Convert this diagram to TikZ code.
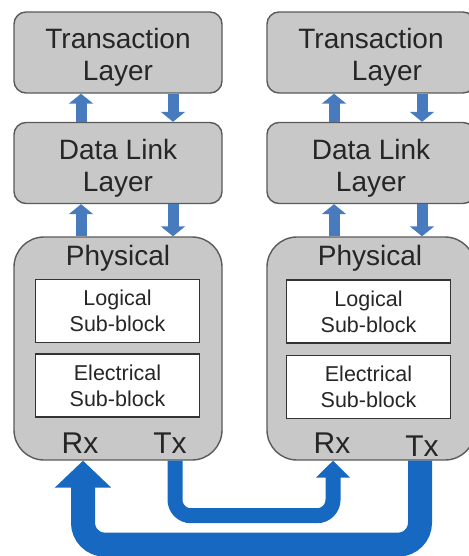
\documentclass[tikz,border=0pt]{standalone}
\usepackage{fontspec}
\setmainfont{Liberation Sans}
\usetikzlibrary{arrows.meta}
\definecolor{boxgray}{RGB}{200,200,200}
\definecolor{boxline}{RGB}{90,90,90}
\definecolor{txtgray}{RGB}{38,38,38}
\definecolor{stackblue}{RGB}{72,122,190}
\definecolor{linkblue}{RGB}{22,104,192}
\begin{document}
\begin{tikzpicture}[x=1pt,y=-1pt,
	layer/.style={draw=boxline,line width=1.4pt,fill=boxgray,rounded corners=12pt,minimum width=208pt,minimum height=81pt},
	laytext/.style={align=center,text=txtgray,font=\fontsize{28}{32}\selectfont,yshift=-5pt},
	phybox/.style={draw=boxline,line width=1.4pt,fill=boxgray,rounded corners=30pt,minimum width=208pt,minimum height=223pt},
	subblock/.style={draw=black!80,line width=1.4pt,fill=white,minimum width=164pt,minimum height=63pt,align=center,text=txtgray,font=\fontsize{21.5}{26}\selectfont},
	lbl/.style={text=txtgray,font=\fontsize{28}{32}\selectfont},
	port/.style={text=txtgray,font=\fontsize{30}{34}\selectfont},
	stackarrow/.style={draw=stackblue,line width=11pt,-{Triangle[length=10pt,width=24pt]}},
	linkarrow/.style={draw=linkblue}]
		\useasboundingbox (0,0) rectangle (468,556);
		\node[layer,label={[laytext]center:Transaction\\Layer}] (tlA) at (118,52.5) {};
		\node[layer,label={[laytext]center:Data Link\\Layer}] (dlA) at (118,163) {};
		\node[phybox] (phA) at (118,348.5) {};
		\node[lbl] (phtA) at (118,258) {Physical};
		\node[subblock] (logA) at (117.5,311) {Logical\\Sub-block};
		\node[subblock] (eleA) at (117.5,385.5) {Electrical\\Sub-block};
		\node[port] (rxA) at (80,443) {Rx};
		\node[port] (txA) at (170,443) {Tx};
		\node[layer,label={[laytext]center:Transaction\\\hspace*{32pt}Layer}] (tlB) at (371,52.5) {};
		\node[layer,label={[laytext]center:Data Link\\Layer}] (dlB) at (371,163) {};
		\node[phybox] (phB) at (371,348.5) {};
		\node[lbl] (phtB) at (370,258) {Physical};
		\node[subblock] (logB) at (368.5,311.5) {Logical\\Sub-block};
		\node[subblock] (eleB) at (368.5,387) {Electrical\\Sub-block};
		\node[port] (rxB) at (332,443) {Rx};
		\node[port] (txB) at (422,446) {Tx};
		\draw[stackarrow] ([xshift=-37pt]dlA.north) -- ([xshift=-37pt]tlA.south);
		\draw[stackarrow] ([xshift=55pt]tlA.south) -- ([xshift=55pt]dlA.north);
		\draw[stackarrow] ([xshift=-37pt]phA.north) -- ([xshift=-37pt]dlA.south);
		\draw[stackarrow] ([xshift=55pt]dlA.south) -- ([xshift=55pt]phA.north);
		\draw[stackarrow] ([xshift=-37pt]dlB.north) -- ([xshift=-37pt]tlB.south);
		\draw[stackarrow] ([xshift=51pt]tlB.south) -- ([xshift=51pt]dlB.north);
		\draw[stackarrow] ([xshift=-37pt]phB.north) -- ([xshift=-37pt]dlB.south);
		\draw[stackarrow] ([xshift=51pt]dlB.south) -- ([xshift=51pt]phB.north);
		\draw[linkarrow,line width=15pt,rounded corners=16pt,-{Triangle[length=17pt,width=33pt]}] ([xshift=5pt]txA.south |- phA.south) -- ++(0,55) -| ([xshift=1pt]rxB.south |- phB.south);
		\draw[linkarrow,line width=24pt,rounded corners=22pt,-{Triangle[length=27pt,width=55pt]}] ([xshift=-2pt]txB.south |- phB.south) -- ++(0,84) -| ([xshift=3pt]rxA.south |- phA.south);
\end{tikzpicture}
\end{document}
